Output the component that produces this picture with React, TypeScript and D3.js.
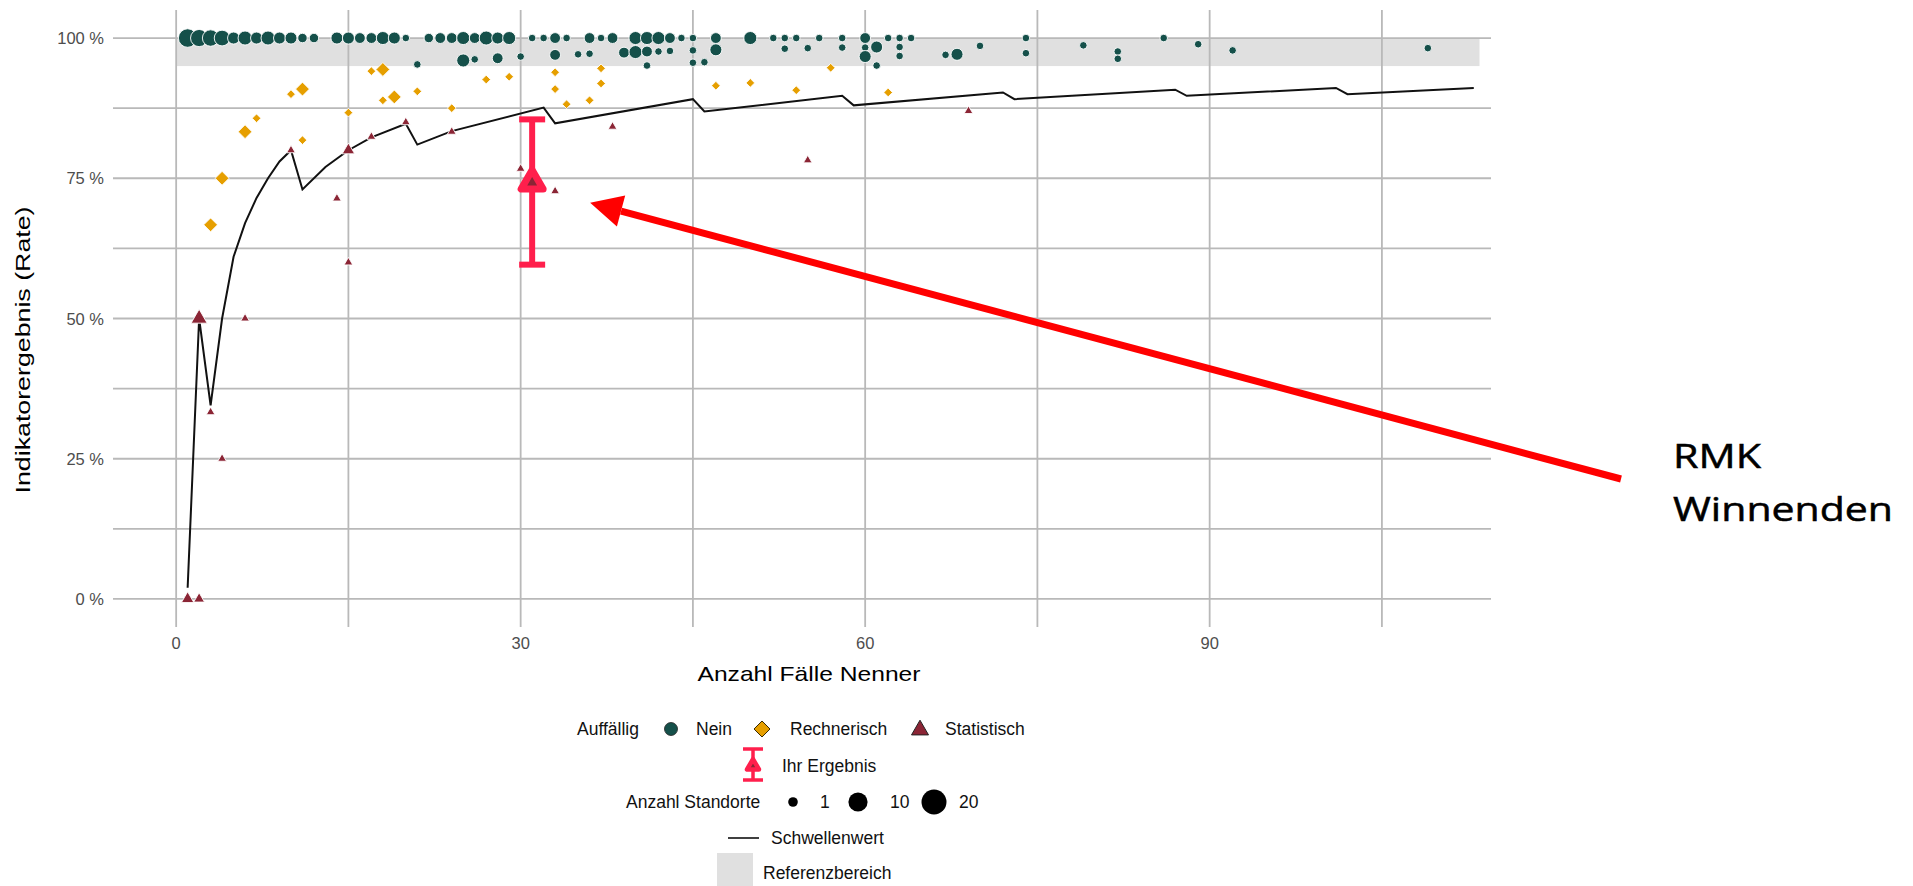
import React from 'react';
import * as d3 from 'd3';

const W = 1913, H = 886;
const panel = { left: 113, right: 1491, top: 10, bottom: 627 };

// Schwellenwert je Anzahl Fälle
const thrN = [1, 2, 3, 4, 5, 6, 7, 8, 9, 10, 11, 13, 15, 17, 20, 21, 24, 32, 33, 45, 46, 58, 59, 72, 73, 87, 88, 101, 102, 113];
const thrRate = [0.02, 0.5, 0.345, 0.5, 0.61, 0.67, 0.715, 0.75, 0.78, 0.8, 0.73, 0.77, 0.8, 0.823, 0.847, 0.81, 0.834, 0.876, 0.848, 0.891, 0.869, 0.897, 0.88, 0.903, 0.891, 0.908, 0.897, 0.911, 0.9, 0.911];

// [Fälle, Rate, Anzahl Standorte]
const nein: [number, number, number][] = [
  [1, 1, 12], [2, 1, 10], [3, 1, 9], [4, 1, 8], [5, 1, 4], [6, 1, 6], [7, 1, 4], [8, 1, 6], [9, 1, 4], [10, 1, 4],
  [11, 1, 2], [12, 1, 2], [14, 1, 4], [15, 1, 4], [16, 1, 3], [17, 1, 3], [18, 1, 5], [19, 1, 4], [20, 1, 1],
  [22, 1, 2], [23, 1, 3], [24, 1, 3], [25, 1, 5], [26, 1, 3], [27, 1, 6], [28, 1, 4], [29, 1, 5], [31, 1, 1],
  [32, 1, 1], [33, 1, 3], [34, 1, 1], [36, 1, 3], [37, 1, 1], [38, 1, 3], [40, 1, 5], [41, 1, 5], [42, 1, 5],
  [43, 1, 3], [44, 1, 1], [45, 1, 1], [47, 1, 3], [50, 1, 5], [52, 1, 1], [53, 1, 1], [54, 1, 1], [56, 1, 1],
  [58, 1, 1], [60, 1, 3], [62, 1, 1], [63, 1, 1], [64, 1, 1], [74, 1, 1], [86, 1, 1],
  [21, 0.953, 1], [25, 0.96, 5], [26, 0.962, 1], [28, 0.964, 3], [30, 0.967, 1], [33, 0.97, 3], [35, 0.971, 1],
  [36, 0.972, 1], [39, 0.974, 3], [40, 0.975, 5], [41, 0.976, 3], [41, 0.951, 1], [42, 0.976, 1], [43, 0.977, 1],
  [45, 0.978, 1], [45, 0.956, 1], [46, 0.957, 1], [47, 0.979, 4], [53, 0.981, 1], [55, 0.982, 1], [58, 0.983, 1],
  [60, 0.983, 1], [60, 0.967, 4], [61, 0.984, 4], [61, 0.951, 1], [63, 0.984, 1], [63, 0.968, 1], [67, 0.97, 1],
  [68, 0.971, 4], [70, 0.986, 1], [74, 0.973, 1], [79, 0.987, 1], [82, 0.976, 1], [82, 0.963, 1], [89, 0.989, 1],
  [92, 0.978, 1], [109, 0.982, 1],
];

const rechnerisch: [number, number, number][] = [
  [3, 0.667, 4], [4, 0.75, 4], [6, 0.833, 4], [7, 0.857, 1], [10, 0.9, 1], [11, 0.909, 4], [11, 0.818, 1],
  [15, 0.867, 1], [17, 0.941, 1], [18, 0.944, 4], [18, 0.889, 1], [19, 0.895, 4], [21, 0.905, 1], [24, 0.875, 1],
  [27, 0.926, 1], [29, 0.931, 1], [33, 0.939, 1], [33, 0.909, 1], [34, 0.882, 1], [36, 0.889, 1], [37, 0.946, 1],
  [37, 0.919, 1], [47, 0.915, 1], [50, 0.92, 1], [54, 0.907, 1], [57, 0.947, 1], [62, 0.903, 1],
];

const statistisch: [number, number, number][] = [
  [1, 0, 3], [2, 0, 2], [2, 0.5, 6], [3, 0.333, 1], [4, 0.25, 1], [6, 0.5, 1], [10, 0.8, 1], [14, 0.714, 1],
  [15, 0.8, 3], [15, 0.6, 1], [17, 0.824, 1], [20, 0.85, 1], [24, 0.833, 1], [30, 0.767, 1], [33, 0.727, 1],
  [38, 0.842, 1], [55, 0.782, 1], [69, 0.87, 1],
];

// Ihr Ergebnis
const ihrN = 31, ihrRate = 0.742, ihrLower = 0.596, ihrUpper = 0.855;
// Referenzbereich
const refXmin = 0, refXmax = 113.5, refYmin = 0.95, refYmax = 1;

const xMajor = [0, 30, 60, 90];
const xMinor = [15, 45, 75, 105];
const yMajor = [0, 0.25, 0.5, 0.75, 1];
const yMinor = [0.125, 0.375, 0.625, 0.875];
const sizeBreaks = [1, 10, 20];

const colNein = '#15504a', colRech = '#e69f00', colStat = '#8b2535', colIhr = '#ff1f4c';
const font = '"Liberation Sans", Arial, sans-serif';

const tri = (cx: number, cy: number, s: number) =>
  `M${cx},${cy - s * 0.577}L${cx - s / 2},${cy + s * 0.289}L${cx + s / 2},${cy + s * 0.289}Z`;
const diamond = (cx: number, cy: number, h: number) =>
  `M${cx},${cy - h}L${cx + h},${cy}L${cx},${cy + h}L${cx - h},${cy}Z`;

const App = () => {
  const x = d3.scaleLinear().domain([-5.5, 114.5]).range([panel.left, panel.right]);
  const y = d3.scaleLinear().domain([-0.05, 1.05]).range([panel.bottom, panel.top]);
  const r = d3.scaleSqrt().domain([1, 20]).range([3.8, 11.5]);

  const thrLine = d3.line<number>().x((d, i) => x(thrN[i])).y(d => y(d));

  const ihrX = x(ihrN), ihrY = y(ihrRate);
  // Pfeil zur Markierung
  const tip = { x: ihrX + 58, y: ihrY + 20 };
  const tail = { x: 1621, y: 479 };
  const ang = Math.atan2(tip.y - tail.y, tip.x - tail.x);
  const headL = 32, headW = 16;
  const base = { x: tip.x - headL * Math.cos(ang), y: tip.y - headL * Math.sin(ang) };
  const px = -Math.sin(ang), py = Math.cos(ang);

  const legendLabel = { fontFamily: font, fontSize: 17.5, fill: '#111' };

  return (
    <svg width={W} height={H} style={{ position: 'absolute', left: 0, top: 0, background: '#fff' }}>
      {/* Referenzbereich */}
      <rect x={x(refXmin)} y={y(refYmax)} width={x(refXmax) - x(refXmin)} height={y(refYmin) - y(refYmax)} fill="#e0e0e0" />
      {/* Gitter */}
      <g stroke="#b9b9b9" strokeWidth={1.8}>
        {[...xMajor, ...xMinor].map(v => (
          <line key={'x' + v} x1={x(v)} x2={x(v)} y1={panel.top} y2={panel.bottom} />
        ))}
        {[...yMajor, ...yMinor].map(v => (
          <line key={'y' + v} x1={panel.left} x2={panel.right} y1={y(v)} y2={y(v)} />
        ))}
      </g>
      {/* Achsenbeschriftung */}
      <g fontFamily={font} fontSize={16.5} fill="#4d4d4d">
        {yMajor.map(v => (
          <text key={v} x={104} y={y(v) + 6} textAnchor="end">{`${v * 100} %`}</text>
        ))}
        {xMajor.map(v => (
          <text key={v} x={x(v)} y={649} textAnchor="middle">{v}</text>
        ))}
      </g>
      <text x={809} y={681} textAnchor="middle" fontFamily={font} fontSize={21} textLength={223} lengthAdjust="spacingAndGlyphs">Anzahl Fälle Nenner</text>
      <text transform="translate(30,350) rotate(-90)" textAnchor="middle" fontFamily={font} fontSize={21} textLength={287} lengthAdjust="spacingAndGlyphs">Indikatorergebnis (Rate)</text>

      {/* Schwellenwert */}
      <path d={thrLine(thrRate) || ''} fill="none" stroke="#111" strokeWidth={2} />

      {/* Punkte */}
      <g stroke="#fff" strokeWidth={0.9}>
        {nein.map((d, i) => (
          <circle key={'n' + i} cx={x(d[0])} cy={y(d[1])} r={r(d[2])} fill={colNein} />
        ))}
        {rechnerisch.map((d, i) => (
          <path key={'r' + i} d={diamond(x(d[0]), y(d[1]), r(d[2]) * 1.15)} fill={colRech} />
        ))}
        {statistisch.map((d, i) => (
          <path key={'s' + i} d={tri(x(d[0]), y(d[1]), r(d[2]) * 2.3)} fill={colStat} />
        ))}
      </g>

      {/* Ihr Ergebnis */}
      <g stroke={colIhr}>
        <line x1={ihrX} x2={ihrX} y1={y(ihrUpper)} y2={y(ihrLower)} strokeWidth={6} />
        <line x1={ihrX - 13} x2={ihrX + 13} y1={y(ihrUpper)} y2={y(ihrUpper)} strokeWidth={6} />
        <line x1={ihrX - 13} x2={ihrX + 13} y1={y(ihrLower)} y2={y(ihrLower)} strokeWidth={6} />
        <path d={tri(ihrX, ihrY, 22)} fill={colStat} strokeWidth={7} strokeLinejoin="round" />
      </g>

      {/* Pfeil */}
      <line x1={tail.x} y1={tail.y} x2={base.x} y2={base.y} stroke="#ff0000" strokeWidth={7} />
      <path
        d={`M${tip.x},${tip.y}L${base.x + px * headW},${base.y + py * headW}L${base.x - px * headW},${base.y - py * headW}Z`}
        fill="#ff0000"
      />
      <g fontFamily='"Open Sans", "Noto Sans", sans-serif' fontSize={33} fill="#000" stroke="#000" strokeWidth={0.5}>
        <text x={1673} y={468} textLength={88} lengthAdjust="spacingAndGlyphs">RMK</text>
        <text x={1673} y={521} textLength={220} lengthAdjust="spacingAndGlyphs">Winnenden</text>
      </g>

      {/* Legende */}
      <g>
        <text x={577} y={735} {...legendLabel}>Auffällig</text>
        <circle cx={671} cy={729} r={6.5} fill={colNein} stroke="#222" strokeWidth={0.8} />
        <text x={696} y={735} {...legendLabel}>Nein</text>
        <path d={diamond(762, 729, 8)} fill={colRech} stroke="#3a2a00" strokeWidth={1} />
        <text x={790} y={735} {...legendLabel}>Rechnerisch</text>
        <path d={tri(920, 730, 17)} fill={colStat} stroke="#222" strokeWidth={1} />
        <text x={945} y={735} {...legendLabel}>Statistisch</text>

        <g stroke={colIhr}>
          <line x1={753} x2={753} y1={749} y2={780} strokeWidth={3.5} />
          <line x1={743} x2={763} y1={749} y2={749} strokeWidth={3.5} />
          <line x1={743} x2={763} y1={780} y2={780} strokeWidth={3.5} />
          <path d={tri(753, 766, 12)} fill={colStat} strokeWidth={4.5} strokeLinejoin="round" />
        </g>
        <text x={782} y={772} {...legendLabel}>Ihr Ergebnis</text>

        <text x={626} y={808} {...legendLabel}>Anzahl Standorte</text>
        {sizeBreaks.map((v, i) => {
          const cx = [793, 858, 934][i];
          const tx = [820, 890, 959][i];
          return (
            <g key={v}>
              <circle cx={cx} cy={802} r={r(v) + 1} fill="#000" />
              <text x={tx} y={808} {...legendLabel}>{v}</text>
            </g>
          );
        })}

        <line x1={728} x2={759} y1={838} y2={838} stroke="#000" strokeWidth={1.5} />
        <text x={771} y={844} {...legendLabel}>Schwellenwert</text>

        <rect x={717} y={853} width={36} height={36} fill="#e0e0e0" />
        <text x={763} y={879} {...legendLabel}>Referenzbereich</text>
      </g>
    </svg>
  );
};

export default App;
